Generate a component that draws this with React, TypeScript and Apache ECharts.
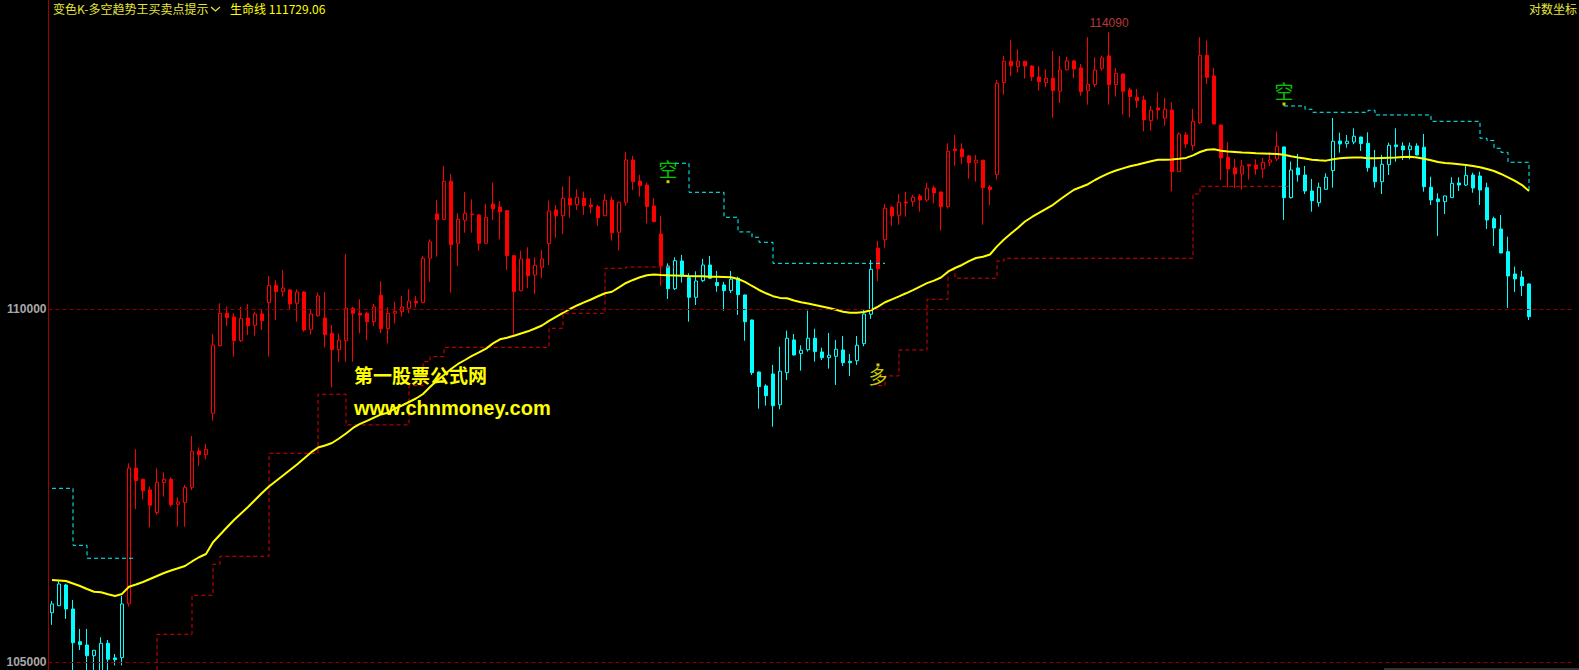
import { useEffect, useRef } from "react";
import * as echarts from "echarts";

// ---------- data ----------
const OPEN = [
  105688,105786,106075,105740,105285,105239,105091,104870,105263,105060,
  105064,105814,107723,107563,107411,107091,107515,107563,107209,107232,
  107449,107965,107912,108503,109474,109942,109888,109546,109874,109768,
  109932,110096,110346,110261,110280,110087,110251,109710,109907,109874,
  109652,109416,109546,110015,109942,109942,109820,110203,109719,109942,
  109966,110014,110116,110096,110742,111390,111312,111871,110961,111298,
  111390,111375,110961,111537,111493,111439,110780,110270,110732,110498,
  110610,110955,111449,111365,111621,111527,111621,111522,111497,111365,
  111592,111122,111562,112186,111875,111816,111508,111097,110629,110299,
  110702,110460,110174,110416,110644,110387,110353,110270,110451,110208,
  109845,109095,108894,109066,108626,109085,109556,109359,109416,109581,
  109383,109301,109320,109412,109248,109257,109503,109928,110888,111013,
  111489,111371,111567,111571,111655,111596,111772,111714,111497,112349,
  112349,112245,112146,112182,111787,111968,113335,113655,113574,113655,
  113584,113420,113335,113400,113207,113529,113659,113554,113216,113305,
  113549,113734,113305,113464,113226,113117,113076,112769,112957,112806,
  112927,112013,112556,112397,112739,113744,113435,112704,112226,112068,
  111979,112116,112108,112053,112152,112201,112378,111630,112068,111964,
  111728,111557,111753,112028,112467,112428,112452,112526,112433,112078,
  111865,112116,112408,112393,112338,112393,112374,111783,111611,111571,
  111630,111846,111816,111964,111949,111777,111321,111170,110838,110513,
  110469,110368,
];
const CLOSE = [
  105810,106089,105740,105271,105244,105091,105166,105263,105042,105036,
  105810,107723,107543,107401,107195,107520,107563,107204,107242,107449,
  107960,107912,107989,109484,109942,109878,109546,109869,109762,109932,
  109835,110346,110255,110309,110077,110251,109700,109932,110193,109633,
  109416,109552,110015,109942,109917,109820,110034,109719,109942,109971,
  110034,110120,110091,110742,110980,111306,111871,110940,111312,111400,
  111380,110961,111341,111464,111424,110780,110255,110732,110489,110639,
  110732,111434,111365,111621,111522,111636,111512,111497,111336,111592,
  111116,111562,112186,111865,111806,111497,111277,110634,110299,110707,
  110484,110174,110411,110644,110451,110343,110270,110436,110212,109820,
  109085,108884,108755,108611,109105,109581,109340,109408,109581,109388,
  109301,109335,109422,109228,109228,109480,109932,110581,110590,111474,
  111365,111562,111552,111636,111596,111768,111699,111497,112315,112324,
  112235,112146,112182,111777,111748,113326,113655,113584,113655,113584,
  113424,113350,113400,113216,113524,113659,113539,113201,113311,113524,
  113704,113305,113475,113207,113126,113066,112783,112923,112927,112937,
  112013,112571,112423,112760,113744,113415,112719,112215,112053,111979,
  112097,112097,112053,112152,112186,112389,111630,112038,111968,111728,
  111586,111783,111930,112463,112423,112463,112537,112428,112072,111865,
  112122,112403,112383,112334,112393,112260,111792,111596,111571,111655,
  111841,111816,111959,111772,111743,111302,111185,110819,110484,110440,
  110343,109893,
];
const LOW = [
  105518,105780,105601,104800,105170,104820,104850,104800,104820,104958,
  104958,105772,107139,107280,106885,107063,107317,107176,106894,106894,
  107411,107752,107847,108397,109460,109758,109315,109528,109628,109618,
  109700,109315,109845,110183,109990,109820,109676,109633,109893,109450,
  108875,109243,109243,109243,109652,109556,109758,109652,109508,109797,
  109893,109942,110028,110090,110401,110765,111300,110241,110629,111116,
  111116,110853,110955,111302,111019,110571,109628,110262,110305,110222,
  110451,110644,111043,111097,111336,111449,111375,111400,111214,111360,
  110999,110853,111512,111743,111645,111254,111270,110343,110149,110280,
  110387,109820,110062,110397,110445,110255,109980,110236,109917,109546,
  109052,108569,108611,108311,108560,108980,109330,109114,109388,109243,
  109267,109143,108908,109181,109038,109196,109465,109860,110411,110897,
  111214,111233,111350,111497,111424,111567,111547,111146,111468,112101,
  112127,111909,111865,111233,111522,111900,113155,113435,113484,113394,
  113360,113216,113266,112813,113031,113514,113400,113140,113006,113266,
  113514,113006,113126,112857,112819,112957,112611,112620,112789,112694,
  111724,112008,112364,112324,112719,113315,112710,111890,111783,111772,
  111747,111894,111968,111919,112097,112171,111302,111616,111865,111684,
  111424,111497,111748,111777,112294,112368,112418,112319,112013,111777,
  111684,111964,112161,112186,112196,112255,111718,111522,111068,111390,
  111625,111728,111802,111703,111522,111170,110921,110815,110019,110251,
  110193,109845,
];
const HIGH = [
  105852,106135,106093,105866,105462,105462,105170,105347,105309,105114,
  105922,107790,107989,107570,107458,107719,107662,107591,107308,107482,
  108178,108017,108064,109642,110087,110038,109942,110038,110073,109966,
  110000,110484,110426,110571,110290,110290,110260,110000,110241,110251,
  109772,109652,110805,110038,110145,109966,110077,110407,110028,110110,
  110193,110290,110193,110775,111019,111596,112097,111979,111400,111714,
  111606,111390,111537,111850,111581,111445,110790,110853,110903,110756,
  110863,111586,111522,111792,111939,111753,111718,111621,111522,111684,
  111645,111571,112304,112245,111966,111850,111621,111361,110668,110756,
  110790,110523,110552,110732,110775,110557,110397,110557,110474,110212,
  109850,109100,108918,109196,109460,109690,109642,109480,109980,109719,
  109445,109657,109556,109613,109354,109613,109990,110717,110994,111537,
  111508,111684,111714,111670,111684,111846,111807,111720,112433,112556,
  112433,112260,112260,112190,111816,113375,113734,113974,113834,113660,
  113594,113584,113535,113809,113729,113724,113674,113614,114015,113714,
  113739,114090,113554,113470,113256,113241,113140,112987,113191,113106,
  113042,112596,112596,112942,114015,113964,113554,112710,112452,112201,
  112186,112127,112196,112215,112304,112608,112385,112161,112275,112097,
  111905,111850,111989,112809,112590,112556,112655,112530,112596,112334,
  112260,112442,112655,112448,112442,112433,112571,111939,111694,111660,
  111930,111930,112112,111998,112013,111850,111351,111375,111058,110620,
  110557,110375,
];
// 生命线 (life line)
const LIFE_LINE = [
  106145,106138,106131,106096,106061,106019,105981,105973,105945,105922,
  105950,106051,106082,106117,106159,106201,106243,106278,106309,106341,
  106404,106463,106509,106674,106779,106885,106988,107080,107171,107270,
  107369,107461,107539,107617,107695,107773,107858,107944,108014,108043,
  108078,108142,108214,108293,108350,108393,108440,108486,108511,108571,
  108614,108664,108714,108779,108879,108973,109052,109138,109210,109267,
  109325,109376,109431,109506,109566,109589,109616,109650,109681,109722,
  109765,109831,109889,109946,110004,110055,110099,110142,110189,110232,
  110254,110317,110382,110426,110465,110494,110506,110498,110494,110491,
  110488,110484,110481,110478,110474,110471,110468,110464,110440,110397,
  110338,110280,110232,110190,110165,110160,110128,110103,110083,110062,
  110041,110019,109993,109965,109951,109951,109961,109986,110038,110102,
  110144,110187,110232,110279,110330,110379,110416,110462,110546,110600,
  110644,110699,110746,110764,110797,110916,111016,111103,111188,111280,
  111346,111405,111464,111525,111603,111677,111747,111787,111828,111890,
  111943,111991,112031,112062,112093,112115,112142,112168,112190,112190,
  112193,112204,112216,112253,112304,112338,112343,112322,112310,112304,
  112298,112293,112285,112282,112279,112275,112264,112242,112223,112207,
  112189,112182,112176,112195,112210,112220,112223,112224,112210,112210,
  112216,112220,112224,112229,112233,112223,112204,112183,112156,112140,
  112133,112124,112113,112097,112078,112053,112023,111979,111930,111878,
  111816,111729.06,
];
// bars (1-based) drawn in the "空" colour
const CYAN_RANGES: [number, number][] = [[1, 11], [89, 118], [177, 212]];
// resistance steps: [first bar, level] (null = no line)
const RESIST_STEPS: [number, number | null][] = [
  [1, 107435], [4, 106631], [6, 106449], [13, null],
  [90, 112137], [92, 111709], [97, 111342], [99, 111127], [101, 111049], [102, 110975], [104, 110668], [120, null],
  [177, 112987], [180, 112938], [181, 112893], [189, 112923], [190, 112853], [198, 112759],
  [205, 112508], [206, 112473], [207, 112359], [208, 112299], [209, 112152], [212, 111743],
];
// support steps
const SUPPORT_STEPS: [number, number | null][] = [
  [12, 104700], [16, 105388], [21, 105931], [24, 106365], [25, 106477], [32, 107932], [39, 108775],
  [43, 108336], [52, 108898], [54, 109243], [55, 109315], [57, 109450], [72, 109725], [74, 109942],
  [80, 110596], [83, 110615], [90, null],
  [119, 108898], [120, 109038], [122, 109412], [126, 110145], [129, 110571], [130, 110451],
  [136, 110702], [137, 110742], [164, 111684], [165, 111797], [178, null],
];
const PRICE_LINES = [110000, 105000];
const SIGNAL_BARS = [89, 119, 177];
const SIGNAL_TEXTS = ["空", "多", "空"];
const SIGNAL_PRICES = [112053, 109045, 113211];
const SIGNAL_DOT_PRICES = [111865, 109196, 113016];
const Y_MIN = 104893;
const Y_MAX = 114576;
const TITLE_NAME = "变色K-多空趋势王买卖点提示";
const LINE_NAME = "生命线";
const SCALE_NAME = "对数坐标";
const WATERMARK_1 = "第一股票公式网";
const WATERMARK_2 = "www.chnmoney.com";

// ---------- helpers ----------
const N = OPEN.length;
const CATEGORIES = OPEN.map((_, i) => String(i + 1));

function expandSteps(steps: [number, number | null][]): (number | string)[] {
  const out: (number | string)[] = [];
  let cur: number | null = null;
  let si = 0;
  for (let bar = 1; bar <= N; bar++) {
    while (si < steps.length && steps[si][0] === bar) {
      cur = steps[si][1];
      si++;
    }
    out.push(cur == null ? "-" : cur);
  }
  return out;
}
function isCyan(bar: number) {
  return CYAN_RANGES.some(([a, b]) => bar >= a && bar <= b);
}

const RED = "#ff0000";
const CYAN = "#00ffff";
const CJK = '"Noto Sans CJK SC", "Noto Sans", sans-serif';

export default function App() {
  const ref = useRef<HTMLDivElement>(null);

  useEffect(() => {
    document.body.style.margin = "0";
    document.body.style.background = "#000";
    const chart = echarts.init(ref.current!, null, { renderer: "svg" });

    const blank = ["-", "-", "-", "-"];
    const redData = OPEN.map((o, i) => (isCyan(i + 1) ? blank : [o, CLOSE[i], LOW[i], HIGH[i]]));
    const cyanData = OPEN.map((o, i) => (isCyan(i + 1) ? [o, CLOSE[i], LOW[i], HIGH[i]] : blank));

    let maxIdx = 0;
    HIGH.forEach((h, i) => { if (h > HIGH[maxIdx]) maxIdx = i; });

    const candleStyle = (c: string) => ({
      color: "#000000",
      color0: c,
      borderColor: c,
      borderColor0: c,
      borderColorDoji: c,
      borderWidth: 1,
    });

    const option: any = {
      animation: false,
      backgroundColor: "#000000",
      textStyle: { fontFamily: CJK },
      grid: { left: 48.5, top: 0, width: 218 * 7, height: 670, containLabel: false },
      xAxis: {
        type: "category",
        data: CATEGORIES,
        boundaryGap: true,
        max: 217,
        show: false,
      },
      yAxis: {
        type: "log",
        logBase: 10,
        min: Y_MIN,
        max: Y_MAX,
        axisLine: { show: true, lineStyle: { color: "#a00000", width: 1 } },
        axisTick: { show: false },
        axisLabel: { show: false },
        splitLine: { show: false },
        minorTick: { show: false },
        minorSplitLine: { show: false },
      },
      series: [
        {
          type: "candlestick",
          name: "red",
          data: redData,
          barWidth: 4,
          clip: true,
          z: 2,
          itemStyle: candleStyle(RED),
        },
        {
          type: "candlestick",
          name: "cyan",
          data: cyanData,
          barWidth: 4,
          clip: true,
          z: 2,
          itemStyle: candleStyle(CYAN),
        },
        {
          type: "line",
          name: LINE_NAME,
          data: LIFE_LINE,
          showSymbol: false,
          symbol: "none",
          z: 4,
          lineStyle: { color: "#ffff00", width: 2 },
          markLine: {
            silent: true,
            symbol: ["none", "none"],
            lineStyle: { color: "#900000", type: [4, 3], width: 1 },
            label: {
              show: true,
              position: "start",
              distance: 2,
              formatter: (p: any) => String(p.value),
              color: "#a8a8a8",
              fontSize: 12,
              fontWeight: "bold",
              fontFamily: '"Liberation Sans", Arial, sans-serif',
            },
            data: PRICE_LINES.map((v) => ({ yAxis: v })),
          },
        },
        {
          type: "line",
          name: "resist",
          data: expandSteps(RESIST_STEPS),
          step: "end",
          showSymbol: false,
          symbol: "none",
          connectNulls: false,
          clip: true,
          z: 3,
          lineStyle: { color: CYAN, width: 1, type: [4, 3] },
        },
        {
          type: "line",
          name: "support",
          data: expandSteps(SUPPORT_STEPS),
          step: "end",
          showSymbol: false,
          symbol: "none",
          connectNulls: false,
          clip: true,
          z: 3,
          lineStyle: { color: "#e00000", width: 1, type: [4, 3] },
        },
        {
          type: "scatter",
          name: "signals",
          symbol: "rect",
          symbolSize: 1,
          z: 6,
          itemStyle: { color: "rgba(0,0,0,0)" },
          data: SIGNAL_BARS.map((b, k) => ({
            value: [b - 1, SIGNAL_PRICES[k]],
            label: {
              show: true,
              position: "inside",
              formatter: SIGNAL_TEXTS[k],
              color: SIGNAL_TEXTS[k] === "多" ? "#ffff00" : "#00ff00",
              fontSize: 19,
              fontFamily: CJK,
            },
          })),
        },
        {
          type: "scatter",
          name: "signalDots",
          symbol: "rect",
          symbolSize: 3,
          z: 6,
          itemStyle: { color: "#ffff00" },
          data: SIGNAL_BARS.map((b, k) => [b - 1, SIGNAL_DOT_PRICES[k]]),
        },
        {
          type: "scatter",
          name: "maxHigh",
          symbol: "rect",
          symbolSize: 1,
          z: 6,
          itemStyle: { color: "rgba(0,0,0,0)" },
          data: [
            {
              value: [maxIdx, HIGH[maxIdx]],
              label: {
                show: true,
                position: "top",
                distance: 3,
                formatter: String(HIGH[maxIdx]),
                color: "#e04848",
                fontSize: 12,
                fontFamily: '"Liberation Sans", Arial, sans-serif',
              },
            },
          ],
        },
      ],
      graphic: [
        {
          type: "text",
          x: 53,
          y: 8,
          style: { text: TITLE_NAME, fill: "#e6e63c", fontSize: 12, fontFamily: CJK, textVerticalAlign: "middle" },
        },
        {
          type: "polyline",
          shape: { points: [[211, 7], [215.5, 11], [220, 7]] },
          style: { stroke: "#e6e63c", lineWidth: 1.3, fill: "none" },
        },
        {
          type: "text",
          x: 230,
          y: 8,
          style: {
            text: LINE_NAME + " " + LIFE_LINE[N - 1].toFixed(2),
            fill: "#ffff00",
            fontSize: 12,
            fontFamily: CJK,
            textVerticalAlign: "middle",
          },
        },
        {
          type: "text",
          x: 1577,
          y: 8,
          style: { text: SCALE_NAME, fill: "#e6e63c", fontSize: 12, fontFamily: CJK, textAlign: "right", textVerticalAlign: "middle" },
        },
        {
          type: "text",
          x: 354,
          y: 374.6,
          z: 10,
          style: { text: WATERMARK_1, fill: "#ffff00", fontSize: 19, fontWeight: "bold", fontFamily: CJK, textVerticalAlign: "middle" },
        },
        {
          type: "text",
          x: 354,
          y: 407.5,
          z: 10,
          style: {
            text: WATERMARK_2,
            fill: "#ffff00",
            fontSize: 20,
            fontWeight: "bold",
            fontFamily: '"Liberation Sans", Arial, sans-serif',
            textVerticalAlign: "middle",
          },
        },
        {
          type: "rect",
          shape: { x: 1384, y: 668, width: 195, height: 2 },
          style: { fill: "#333333" },
        },
      ],
    };

    chart.setOption(option);
    return () => chart.dispose();
  }, []);

  return <div ref={ref} style={{ width: 1579, height: 670, background: "#000" }} />;
}
